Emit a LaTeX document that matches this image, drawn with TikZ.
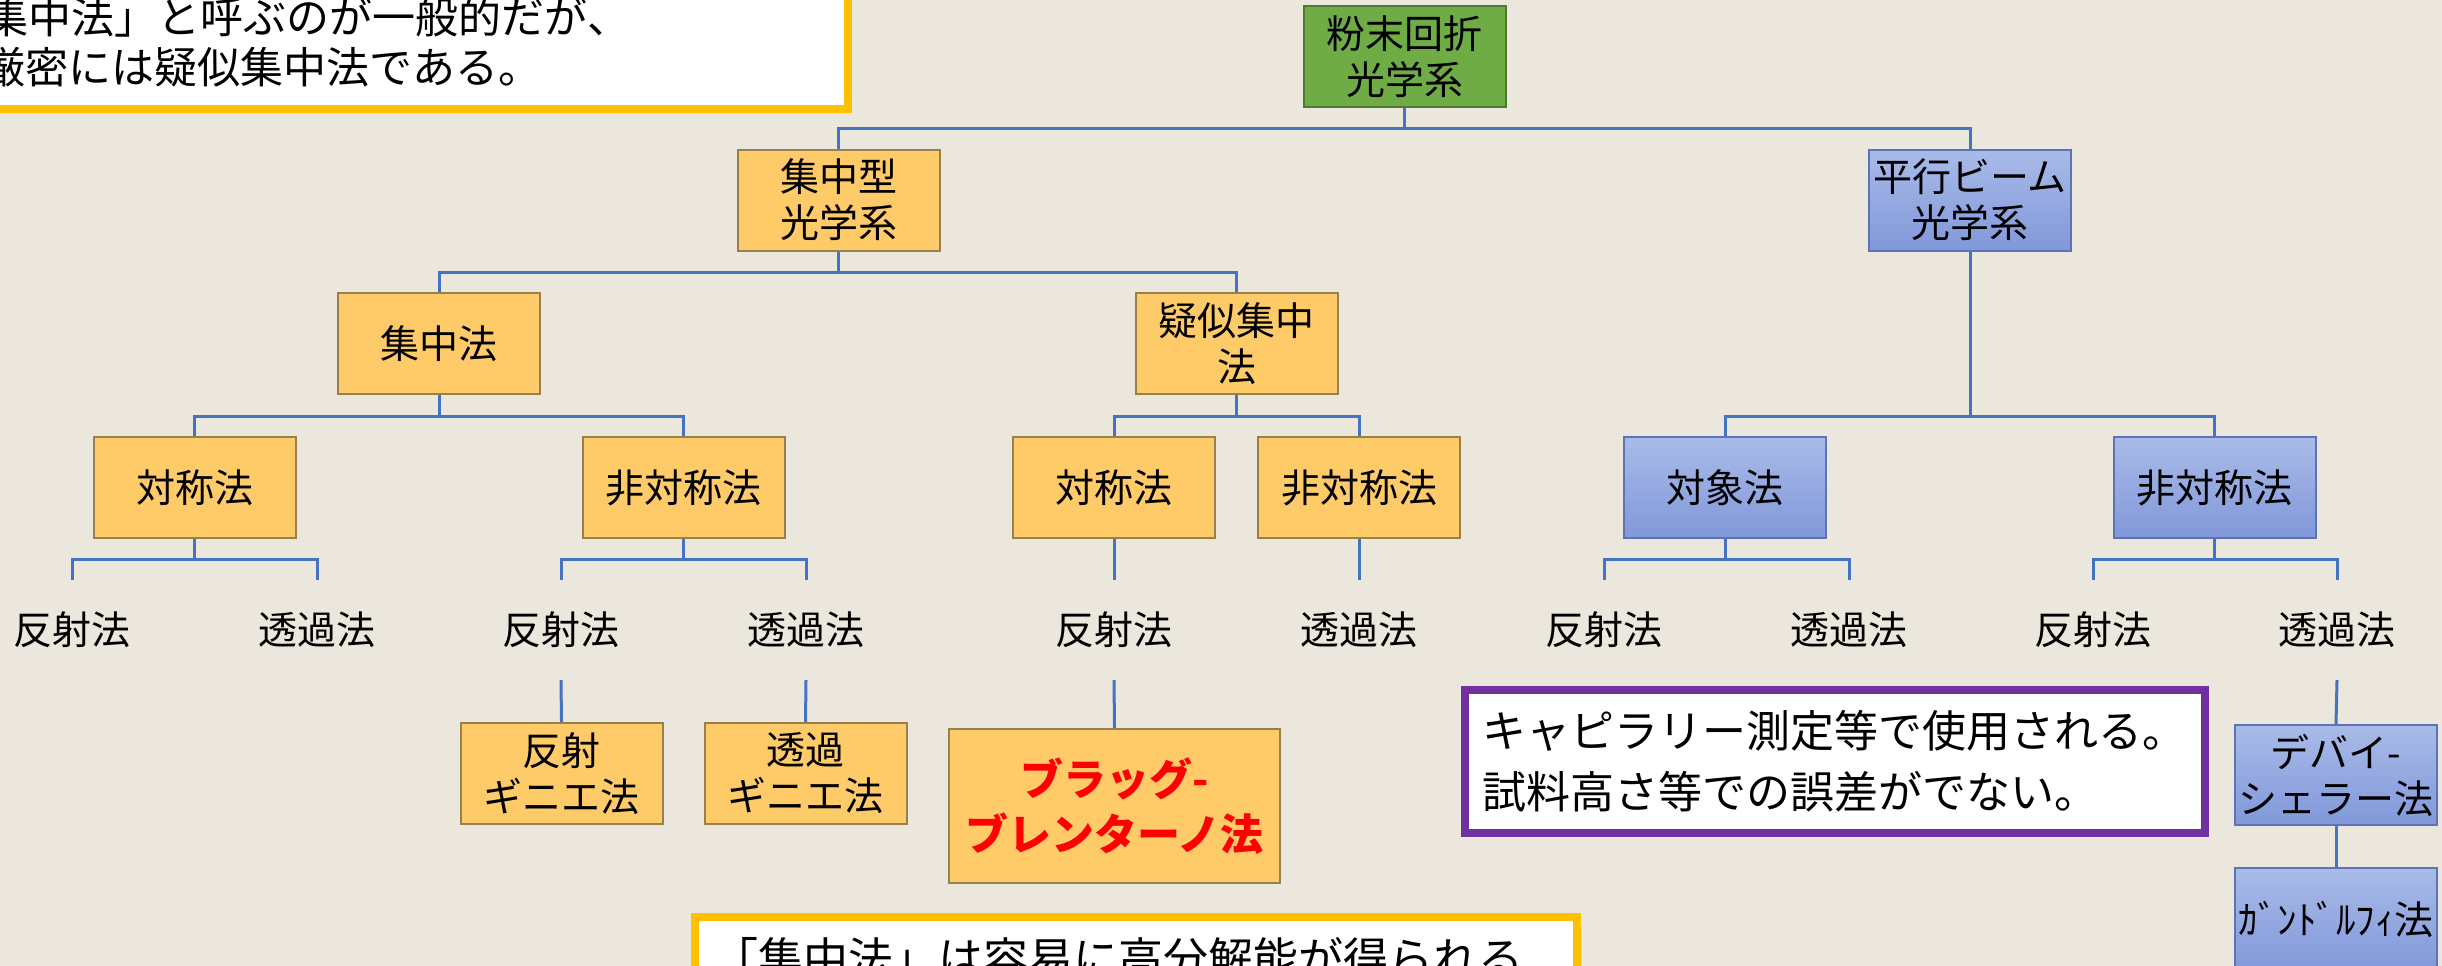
\documentclass[tikz,border=0pt]{standalone}
\usepackage{fontspec}
\newfontfamily\jp{Noto Sans CJK JP}
\definecolor{bg}{HTML}{ECE7DC}
\definecolor{orfill}{HTML}{FFCA68}
\definecolor{ordraw}{HTML}{98804E}
\definecolor{bltop}{HTML}{A9BBE8}
\definecolor{blbot}{HTML}{8198DA}
\definecolor{bldraw}{HTML}{5B74B8}
\definecolor{grfill}{HTML}{6FAC46}
\definecolor{grdraw}{HTML}{4C7A2E}
\definecolor{conn}{HTML}{4472C4}
\definecolor{calloutY}{HTML}{FFC000}
\definecolor{calloutP}{HTML}{7030A0}
\definecolor{brag}{HTML}{FF0000}
\newcommand\fsbox{\jp\fontsize{39}{46}\selectfont}
\newcommand\fscall{\jp\fontsize{44}{61}\selectfont}
\tikzset{
  box/.style={draw=ordraw, line width=2pt, fill=orfill, minimum width=202pt, minimum height=101pt, inner sep=0pt, align=center, font=\fsbox},
  bluebox/.style={box, draw=bldraw, top color=bltop, bottom color=blbot},
  greenbox/.style={box, draw=grdraw, fill=grfill},
  leaf/.style={minimum height=100pt, inner sep=0pt, font=\fsbox},
  link/.style={draw=conn, line width=3pt},
  callout/.style={line width=8pt, fill=white, inner sep=0pt, font=\fscall},
}
\begin{document}
\begin{tikzpicture}[x=1pt,y=-1pt]
\useasboundingbox (0,0) rectangle (2442,966);
\fill[bg] (0,0) rectangle (2442,966);
\clip (0,0) rectangle (2442,966);

% bus levels
\coordinate (b1) at (0,128);
\coordinate (b2) at (0,272);
\coordinate (b3) at (0,416);
\coordinate (b4) at (0,559);

% boxes
\node[greenbox] (root) at (1404.5,56.5) {粉末回折\\光学系};
\node[box] (gata) at (838.5,200) {集中型\\光学系};
\node[bluebox] (heikou) at (1970,200) {平行ビーム\\光学系};
\node[box] (shuchu) at (439,343.5) {集中法};
\node[box] (giji) at (1236.5,343.5) {疑似集中\\法};
\node[box] (taiL) at (194.5,487.5) {対称法};
\node[box] (hitL) at (683.5,487.5) {非対称法};
\node[box] (taiM) at (1114,487.5) {対称法};
\node[box] (hitM) at (1359,487.5) {非対称法};
\node[bluebox] (taiB) at (1725,487.5) {対象法};
\node[bluebox] (hitB) at (2214.5,487.5) {非対称法};

% leaves
\node[leaf] (l1) at (72,630) {反射法};
\node[leaf] (l2) at (317,630) {透過法};
\node[leaf] (l3) at (561,630) {反射法};
\node[leaf] (l4) at (806,630) {透過法};
\node[leaf] (l5) at (1114,630) {反射法};
\node[leaf] (l6) at (1359,630) {透過法};
\node[leaf] (l7) at (1604,630) {反射法};
\node[leaf] (l8) at (1849,630) {透過法};
\node[leaf] (l9) at (2093,630) {反射法};
\node[leaf] (l10) at (2337,630) {透過法};

% sub boxes
\node[box] (giniR) at (561.5,773.5) {反射\\ギニエ法};
\node[box] (giniT) at (805.5,773.5) {透過\\ギニエ法};
\node[box, minimum width=331pt, minimum height=154pt, text=brag, font=\jp\bfseries\fontsize{43}{55}\selectfont] (bragg) at (1114.5,806) {ブラッグ-\\ブレンターノ法};
\node[bluebox, minimum height=100pt] (debye) at (2336,775) {デバイ-\\シェラー法};
\node[bluebox, minimum height=102pt] (gand) at (2336,919) {ｶﾞﾝﾄﾞﾙﾌｨ法};

% connectors
\draw[link] (root.south) -- (root.south |- b1) -| (gata.north);
\draw[link] (root.south |- b1) -| (heikou.north);
\draw[link] (gata.south) -- (gata.south |- b2) -| (shuchu.north);
\draw[link] (gata.south |- b2) -| (giji.north);
\draw[link] (shuchu.south) -- (shuchu.south |- b3) -| (taiL.north);
\draw[link] (shuchu.south |- b3) -| (hitL.north);
\draw[link] (giji.south) -- (giji.south |- b3) -| (taiM.north);
\draw[link] (giji.south |- b3) -| (hitM.north);
\draw[link] (heikou.south) -- (heikou.south |- b3) -| (taiB.north);
\draw[link] (heikou.south |- b3) -| (hitB.north);
\draw[link] (taiL.south) -- (taiL.south |- b4) -| (l1.north);
\draw[link] (taiL.south |- b4) -| (l2.north);
\draw[link] (hitL.south) -- (hitL.south |- b4) -| (l3.north);
\draw[link] (hitL.south |- b4) -| (l4.north);
\draw[link] (taiM.south) -- (l5.north);
\draw[link] (hitM.south) -- (l6.north);
\draw[link] (taiB.south) -- (taiB.south |- b4) -| (l7.north);
\draw[link] (taiB.south |- b4) -| (l8.north);
\draw[link] (hitB.south) -- (hitB.south |- b4) -| (l9.north);
\draw[link] (hitB.south |- b4) -| (l10.north);
\draw[link] (l3.south) -- (giniR.north);
\draw[link] (l4.south) -- (giniT.north);
\draw[link] (l5.south) -- (bragg.north);
\draw[link] (l10.south) -- (debye.north);
\draw[link] (debye.south) -- (gand.north);

% callouts
\node[callout, draw=calloutY, minimum width=1050pt, minimum height=134pt, text width=760pt, align=left, font=\jp\fontsize{43}{50}\selectfont] (noteTL) at (323,42) {「集中法」と呼ぶのが一般的だが、\\\hspace*{40pt}厳密には疑似集中法である。};
\node[callout, draw=calloutP, minimum width=740pt, minimum height=143pt, text width=706pt, align=left] (noteP) at (1835,761.5) {キャピラリー測定等で使用される。\\試料高さ等での誤差がでない。};
\node[callout, draw=calloutY, minimum width=882pt, minimum height=83pt, text width=846pt, align=left, font=\jp\fontsize{45}{50}\selectfont] (noteB) at (1136,958.5) {「集中法」は容易に高分解能が得られる};
\end{tikzpicture}
\end{document}
